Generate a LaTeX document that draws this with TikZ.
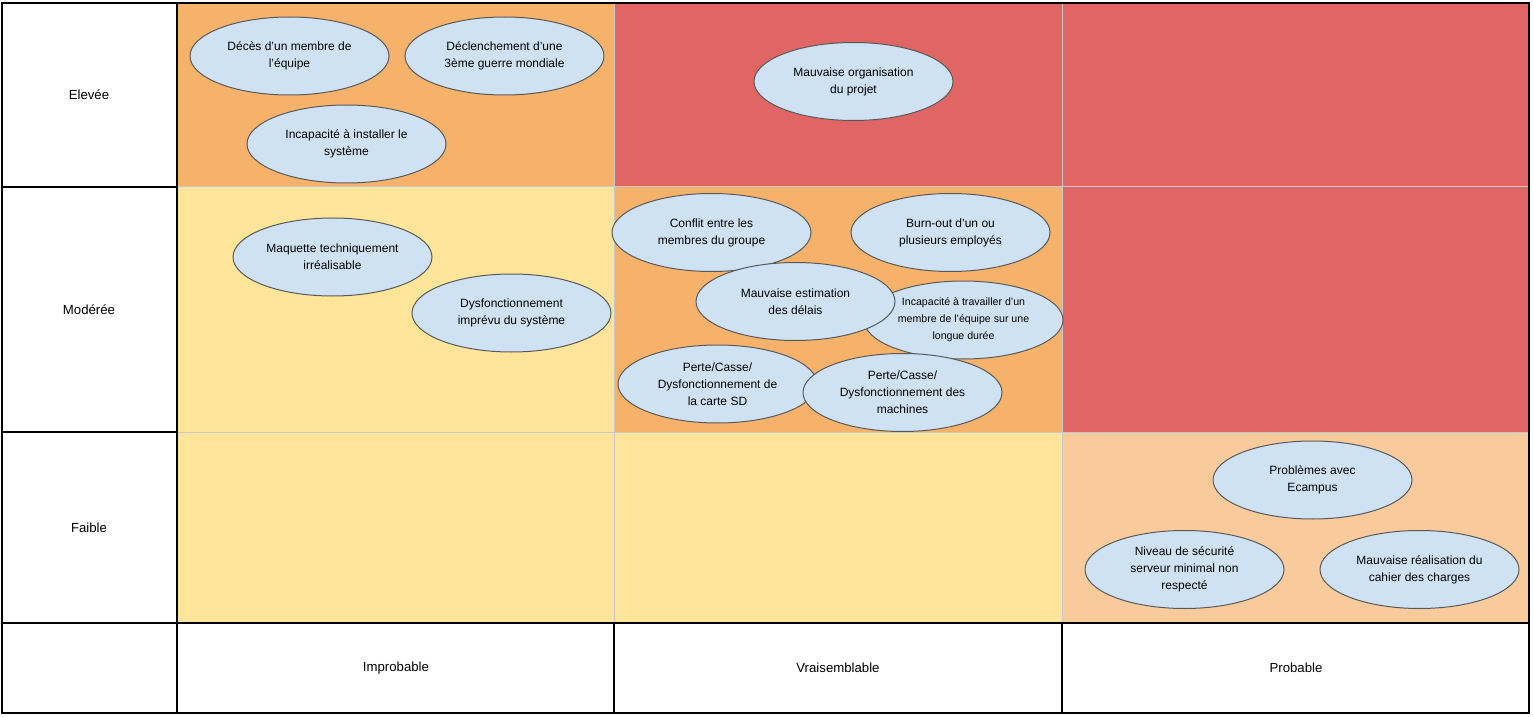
\documentclass[tikz,border=0pt]{standalone}
\usepackage{fontspec}
\setmainfont{Liberation Sans}
\usetikzlibrary{shapes.geometric}
\definecolor{cOrange}{HTML}{F6B26B}
\definecolor{cRed}{HTML}{E06666}
\definecolor{cYellow}{HTML}{FFE599}
\definecolor{cLight}{HTML}{F9CB9C}
\definecolor{cBlue}{HTML}{CFE2F3}
\definecolor{cEdge}{HTML}{595959}
\definecolor{cGrid}{HTML}{C8C8C8}
\tikzset{
  risk/.style={ellipse, draw=cEdge, line width=0.5pt, fill=cBlue, minimum width=99.5pt, minimum height=39pt, inner sep=0pt, align=center, font=\fontsize{6}{8.5}\selectfont},
  cell/.style={draw=cGrid, line width=0.5pt},
  axis/.style={font=\fontsize{6.6}{8}\selectfont, inner sep=0pt},
  frame/.style={draw=black, line width=0.6pt}
}
\begin{document}
\begin{tikzpicture}[x=0.5pt,y=-0.5pt]
\useasboundingbox (0,0) rectangle (1533,717);
\fill[white] (0,0) rectangle (1533,717);
% cells
\filldraw[cell, fill=cOrange] (177,3) rectangle (614,187);
\filldraw[cell, fill=cRed] (614,3) rectangle (1062,187);
\filldraw[cell, fill=cRed] (1062,3) rectangle (1529,187);
\filldraw[cell, fill=cYellow] (177,187) rectangle (614,432);
\filldraw[cell, fill=cOrange] (614,187) rectangle (1062,432);
\filldraw[cell, fill=cRed] (1062,187) rectangle (1529,432);
\filldraw[cell, fill=cYellow] (177,432) rectangle (614,623);
\filldraw[cell, fill=cYellow] (614,432) rectangle (1062,623);
\filldraw[cell, fill=cLight] (1062,432) rectangle (1529,623);
% black frame
\draw[frame] (2,3) rectangle (1529,713);
\draw[frame] (177,3) -- (177,713);
\draw[frame] (2,187) -- (177,187);
\draw[frame] (2,432) -- (177,432);
\draw[frame] (2,623) -- (1529,623);
\draw[frame] (614,623) -- (614,713);
\draw[frame] (1062,623) -- (1062,713);
% axis labels
\node[axis] (l1) at (89,95) {Elevée};
\node[axis] (l2) at (89,310) {Modérée};
\node[axis] (l3) at (89,528) {Faible};
\node[axis] (c1) at (396,668) {Improbable};
\node[axis] (c2) at (838,668) {Vraisemblable};
\node[axis] (c3) at (1296,668) {Probable};
% risks
\node[risk] (r1) at (289.5,56) {Décès d'un membre de\\l'équipe};
\node[risk] (r2) at (504.5,56) {Déclenchement d'une\\3ème guerre mondiale};
\node[risk] (r3) at (346.5,144) {Incapacité à installer le\\système};
\node[risk] (r4) at (853.5,81.5) {Mauvaise organisation\\du projet};
\node[risk] (r5) at (332.5,257) {Maquette techniquement\\irréalisable};
\node[risk] (r6) at (511.5,313) {Dysfonctionnement\\imprévu du système};
\node[risk] (r7) at (711.5,232.5) {Conflit entre les\\membres du groupe};
\node[risk] (r8) at (950.5,232.5) {Burn-out d'un ou\\plusieurs employés};
\node[risk, font=\fontsize{5.3}{8.5}\selectfont] (r10) at (963.5,320) {Incapacité à travailler d'un\\membre de l'équipe sur une\\longue durée};
\node[risk] (r9) at (795.5,301.5) {Mauvaise estimation\\des délais};
\node[risk] (r11) at (717.5,384) {Perte/Casse/\\Dysfonctionnement de\\la carte SD};
\node[risk] (r12) at (902.5,392.5) {Perte/Casse/\\Dysfonctionnement des\\machines};
\node[risk] (r13) at (1312.5,480) {Problèmes avec\\Ecampus};
\node[risk] (r14) at (1184.5,569.5) {Niveau de sécurité\\serveur minimal non\\respecté};
\node[risk] (r15) at (1419.5,569.5) {Mauvaise réalisation du\\cahier des charges};
\end{tikzpicture}
\end{document}
